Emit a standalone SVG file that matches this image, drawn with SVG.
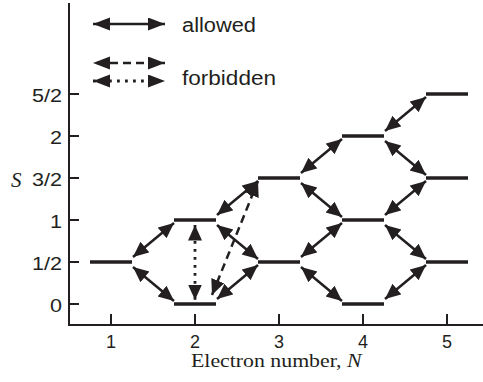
<svg xmlns="http://www.w3.org/2000/svg" width="483" height="382" viewBox="0 0 483 382">
<style>
.ax{stroke:#231f20;stroke-width:2;fill:none}
.lv{stroke:#231f20;stroke-width:3.5;fill:none}
.ar{stroke:#231f20;stroke-width:2.5;fill:none;marker-start:url(#h);marker-end:url(#h)}
.lg{stroke:#231f20;stroke-width:2.6;fill:none;marker-start:url(#hl);marker-end:url(#hl)}
.da{stroke-dasharray:8 5}
.do{stroke-dasharray:2.8 5.2;stroke-width:2.8}
.sans{font-family:"Liberation Sans",Arial,sans-serif;fill:#231f20}
.serif{font-family:"Liberation Serif","Times New Roman",serif;fill:#231f20}
</style>
<defs>
<marker id="h" markerUnits="userSpaceOnUse" markerWidth="17" markerHeight="15" refX="15.5" refY="7" orient="auto-start-reverse"><path d="M0,0 L15.5,7 L0,14 z" fill="#231f20"/></marker>
<marker id="hl" markerUnits="userSpaceOnUse" markerWidth="18" markerHeight="14" refX="17" refY="6.5" orient="auto-start-reverse"><path d="M0,0 L17,6.5 L0,13 z" fill="#231f20"/></marker>
</defs>
<g id="axes">
<path class="ax" d="M69,3 V326 M68,325 H483"/>
<path class="ax" d="M69,94 H79 M69,136 H79 M69,178 H79 M69,220 H79 M69,262 H79 M69,304 H79"/>
<path class="ax" d="M111,325 V314 M195,325 V314 M279,325 V314 M363,325 V314 M447,325 V314"/>
<g class="sans" font-size="19" text-anchor="end">
<text x="62" y="102" textLength="30" lengthAdjust="spacingAndGlyphs">5/2</text>
<text x="62" y="144" textLength="12" lengthAdjust="spacingAndGlyphs">2</text>
<text x="62" y="186" textLength="30" lengthAdjust="spacingAndGlyphs">3/2</text>
<text x="62" y="228" textLength="12" lengthAdjust="spacingAndGlyphs">1</text>
<text x="62" y="270" textLength="30" lengthAdjust="spacingAndGlyphs">1/2</text>
<text x="62" y="312" textLength="12" lengthAdjust="spacingAndGlyphs">0</text>
</g>
<text class="serif" x="11" y="187" font-size="21" font-style="italic">S</text>
<g class="sans" font-size="18" text-anchor="middle">
<text x="111" y="348">1</text>
<text x="195" y="348">2</text>
<text x="279" y="348">3</text>
<text x="363" y="348">4</text>
<text x="447" y="348">5</text>
</g>
<text class="serif" font-size="18.5" transform="translate(191,367) scale(1.18,1)">Electron number, <tspan font-style="italic">N</tspan></text>
</g>
<g id="legend">
<line class="lg" x1="93" y1="24" x2="165" y2="24"/>
<line class="lg da" x1="93" y1="63" x2="165" y2="63" stroke-dashoffset="-4"/>
<line class="lg do" x1="93" y1="81" x2="165" y2="81"/>
<text class="sans" x="182" y="31.5" font-size="20" textLength="74" lengthAdjust="spacingAndGlyphs">allowed</text>
<text class="sans" x="182" y="85" font-size="20" textLength="94" lengthAdjust="spacingAndGlyphs">forbidden</text>
</g>
<g id="N1"><line class="lv" x1="90" y1="262" x2="132" y2="262"/></g>
<g id="N2"><line class="lv" x1="174" y1="220" x2="216" y2="220"/><line class="lv" x1="174" y1="304" x2="216" y2="304"/></g>
<g id="N3"><line class="lv" x1="258" y1="178" x2="300" y2="178"/><line class="lv" x1="258" y1="262" x2="300" y2="262"/></g>
<g id="N4"><line class="lv" x1="342" y1="136" x2="384" y2="136"/><line class="lv" x1="342" y1="220" x2="384" y2="220"/><line class="lv" x1="342" y1="304" x2="384" y2="304"/></g>
<g id="N5"><line class="lv" x1="426" y1="94" x2="468" y2="94"/><line class="lv" x1="426" y1="178" x2="468" y2="178"/><line class="lv" x1="426" y1="262" x2="468" y2="262"/></g>
<g id="connectors">
<line class="ar" x1="133" y1="257" x2="174" y2="223"/>
<line class="ar" x1="133" y1="267" x2="174" y2="301"/>
<line class="ar" x1="217" y1="215" x2="258" y2="181"/>
<line class="ar" x1="217" y1="225" x2="258" y2="259"/>
<line class="ar" x1="217" y1="299" x2="258" y2="265"/>
<line class="ar" x1="301" y1="173" x2="342" y2="139"/>
<line class="ar" x1="301" y1="183" x2="342" y2="217"/>
<line class="ar" x1="301" y1="257" x2="342" y2="223"/>
<line class="ar" x1="301" y1="267" x2="342" y2="301"/>
<line class="ar" x1="385" y1="131" x2="426" y2="97"/>
<line class="ar" x1="385" y1="141" x2="426" y2="175"/>
<line class="ar" x1="385" y1="215" x2="426" y2="181"/>
<line class="ar" x1="385" y1="225" x2="426" y2="259"/>
<line class="ar" x1="385" y1="299" x2="426" y2="265"/>
<line class="ar do" x1="195" y1="225" x2="195" y2="300"/>
<line class="ar da" x1="212" y1="295" x2="258" y2="181"/>
</g>
</svg>
